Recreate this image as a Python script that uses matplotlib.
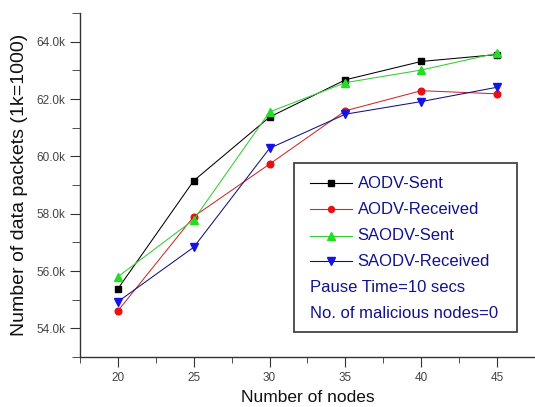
import matplotlib
matplotlib.use("Agg")
import matplotlib.pyplot as plt
from matplotlib.ticker import MultipleLocator, FuncFormatter
from matplotlib.patches import Rectangle
from matplotlib.lines import Line2D

plt.rcParams['font.family'] = ['Liberation Sans', 'DejaVu Sans']

nodes = [20, 25, 30, 35, 40, 45]
aodv_sent = [55380, 59150, 61370, 62670, 63310, 63550]
aodv_recv = [54610, 57900, 59730, 61590, 62290, 62180]
saodv_sent = [55800, 57790, 61550, 62570, 63010, 63600]
saodv_recv = [54930, 56830, 60280, 61470, 61910, 62410]

series_names = ["AODV-Sent", "AODV-Received", "SAODV-Sent", "SAODV-Received"]
series_data = [aodv_sent, aodv_recv, saodv_sent, saodv_recv]
line_colors = ["#000000", "#cc2a2a", "#33cc33", "#121278"]
marker_colors = ["#000000", "#e81010", "#22dd22", "#1414e6"]
markers = ["s", "o", "^", "v"]
marker_sizes = [4.6, 4.8, 6, 6]
notes = ["Pause Time=10 secs", "No. of malicious nodes=0"]

W, H = 535, 407
fig = plt.figure(figsize=(W / 100, H / 100), dpi=100)
ax = fig.add_axes([80 / W, (H - 357) / H, 455 / W, 344 / H])

for name, ys, lc, mc, mk, ms in zip(series_names, series_data, line_colors,
                                     marker_colors, markers, marker_sizes):
    ax.plot(nodes, ys, color=lc, lw=0.75, marker=mk, ms=ms,
            markerfacecolor=mc, markeredgecolor=mc, zorder=3)

ax.set_xlim(17.5, 47.5)
ax.set_ylim(53000, 65000)
ax.xaxis.set_major_locator(MultipleLocator(5))
ax.xaxis.set_minor_locator(MultipleLocator(2.5))
ax.yaxis.set_major_locator(MultipleLocator(2000))
ax.yaxis.set_minor_locator(MultipleLocator(1000))
ax.yaxis.set_major_formatter(FuncFormatter(lambda v, p: f"{v/1000:.1f}k"))

for s in ["top", "right"]:
    ax.spines[s].set_visible(False)
for s in ["left", "bottom"]:
    ax.spines[s].set_color("#333333")
    ax.spines[s].set_linewidth(1.0)

ax.tick_params(axis="y", which="major", length=7, direction="out",
               labelsize=8.5, labelcolor="#444444", color="#333333")
ax.tick_params(axis="y", which="minor", length=6, direction="out", color="#333333")
ax.tick_params(axis="x", which="major", length=7, direction="out", color="#333333",
               labelsize=8.5, labelcolor="#444444", pad=4)
ax.tick_params(axis="x", which="minor", length=4, direction="out", color="#333333")

ax.set_xlabel("Number of nodes", fontsize=12.5, labelpad=4, color="#111111")
ax.set_ylabel("Number of data packets (1k=1000)", fontsize=14, labelpad=6, color="#111111")

# legend box drawn in axes fraction coordinates
def fx(px):
    return (px - 80) / 455

def fy(py):
    return (357 - py) / 344

ax.add_patch(Rectangle((fx(293.5), fy(332)), fx(517) - fx(293.5), fy(162.7) - fy(332),
                       transform=ax.transAxes, facecolor="white",
                       edgecolor="#444444", lw=1.3, zorder=5))
text_color = "#12128a"
rows = [183.3, 209.3, 235.7, 261.3]
for name, lc, mc, mk, ms, ry in zip(series_names, line_colors, marker_colors,
                                    markers, marker_sizes, rows):
    ax.add_line(Line2D([fx(309.6), fx(351.5)], [fy(ry), fy(ry)], transform=ax.transAxes,
                       color=lc, lw=0.8, zorder=6))
    ax.add_line(Line2D([fx(330.5)], [fy(ry)], transform=ax.transAxes, marker=mk,
                       ms=ms - 0.5, color=mc, lw=0, zorder=7))
    ax.text(fx(357.7), fy(ry), name, transform=ax.transAxes, fontsize=12,
            color=text_color, va="center", ha="left", zorder=7)
for note, ry in zip(notes, [287.3, 313.3]):
    ax.text(fx(309.6), fy(ry), note, transform=ax.transAxes, fontsize=12,
            color=text_color, va="center", ha="left", zorder=7)

fig.savefig("out.png", dpi=100)
